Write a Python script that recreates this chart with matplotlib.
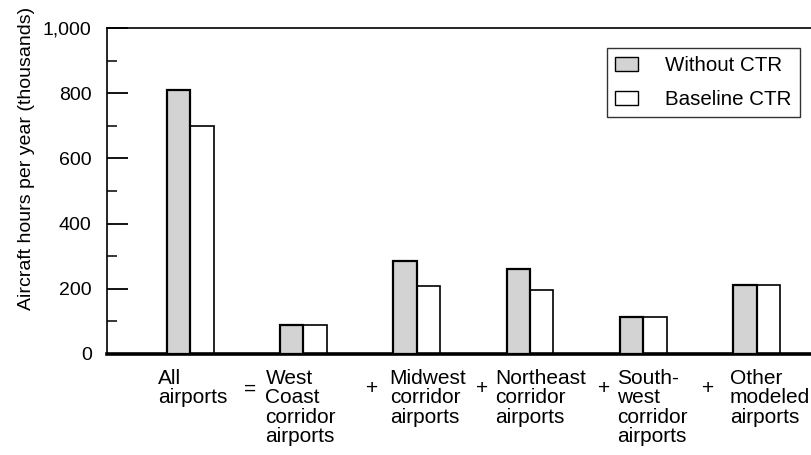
import matplotlib
matplotlib.use("Agg")
import matplotlib.pyplot as plt
import matplotlib.transforms as mtransforms
import numpy as np

plt.rcParams["font.family"] = ["Liberation Sans", "DejaVu Sans"]

# Airport groups and annual aircraft hours (thousands)
categories = [
    "All\nairports",
    "West\nCoast\ncorridor\nairports",
    "Midwest\ncorridor\nairports",
    "Northeast\ncorridor\nairports",
    "South-\nwest\ncorridor\nairports",
    "Other\nmodeled\nairports",
]
without_ctr = [810, 88, 285, 262, 115, 213]
baseline_ctr = [700, 88, 210, 196, 115, 213]
series_names = ["Without CTR", "Baseline CTR"]
operators = ["=", "+", "+", "+", "+"]
y_ticks = [0, 200, 400, 600, 800, 1000]
y_tick_labels = ["0", "200", "400", "600", "800", "1,000"]

fig = plt.figure(figsize=(8.11, 4.55), dpi=100)
ax = fig.add_axes([107 / 811, 1 - 354 / 455, 1 - 107 / 811, (354 - 28) / 455])

x = np.arange(len(categories))
w = 0.207
ax.bar(x - w / 2, without_ctr, w, facecolor="#d3d3d3", edgecolor="black",
       linewidth=1.6, label=series_names[0], zorder=3)
ax.bar(x + w / 2, baseline_ctr, w, facecolor="white", edgecolor="black",
       linewidth=1.2, label=series_names[1], zorder=2)

ax.set_xlim(-0.733, 5.48)
ax.set_ylim(0, 1000)

ax.set_yticks(y_ticks)
ax.set_yticklabels(y_tick_labels, fontsize=14)
ax.set_yticks(np.arange(100, 1000, 200), minor=True)
ax.tick_params(axis="y", which="major", direction="in", length=15, width=1.3, pad=11)
ax.tick_params(axis="y", which="minor", direction="in", length=7.5, width=1.1)
ax.set_xticks([])

for side in ("left", "top"):
    ax.spines[side].set_linewidth(1.2)
ax.spines["bottom"].set_linewidth(2.6)
ax.spines["right"].set_visible(False)

ax.set_ylabel("Aircraft hours per year (thousands)", fontsize=14)
ax.yaxis.set_label_coords(-0.102, 0.60)

# Category labels under each group, left aligned
trans = mtransforms.blended_transform_factory(ax.transData, ax.transAxes)
label_shift = [-0.282, -0.335, -0.238, -0.309, -0.229, -0.238]
for xi, lab, s in zip(x, categories, label_shift):
    ax.text(xi + s, -0.046, lab, transform=trans, ha="left", va="top",
            fontsize=15, linespacing=1.02)

# Operators between groups: total = sum of corridors
op_shift = [0.03, 0.11, 0.08, 0.15, 0.07]
for i, (op, s) in enumerate(zip(operators, op_shift)):
    ax.text(i + 0.5 + s, -0.107, op, transform=trans, ha="center", va="center",
            fontsize=15)

leg = ax.legend(loc="upper right", bbox_to_anchor=(0.984, 0.939), fontsize=14.8,
                frameon=True, fancybox=False, edgecolor="black",
                handlelength=1.15, handleheight=0.65, handletextpad=1.3,
                labelspacing=0.72, borderpad=0.4, borderaxespad=0)
leg.get_frame().set_linewidth(1.0)
for h in leg.legend_handles:
    h.set_linewidth(1.0)

fig.savefig("out.png", dpi=100)
